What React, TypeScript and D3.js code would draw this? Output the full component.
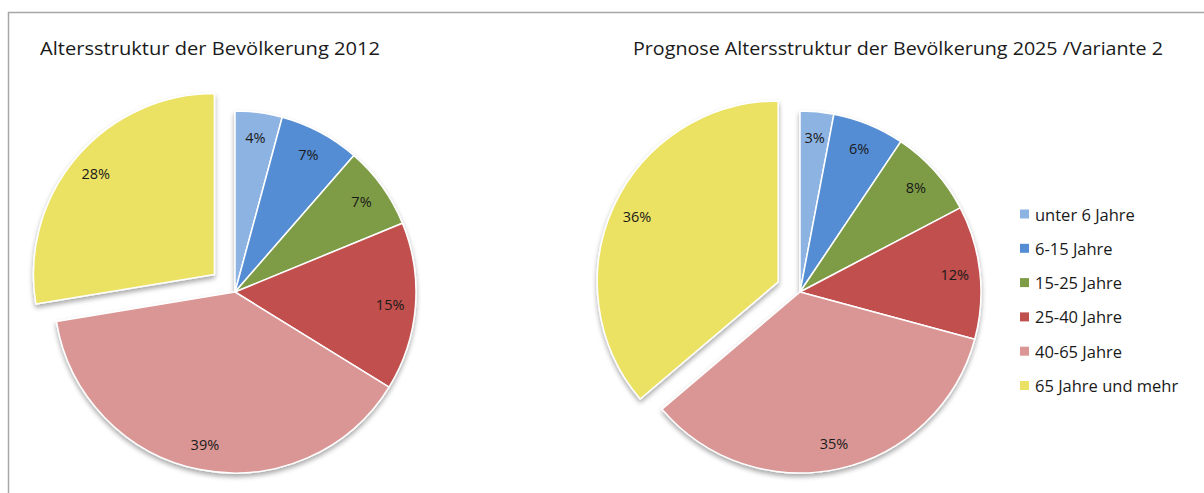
import React from "react";
import * as d3 from "d3";

const categories = ["unter 6 Jahre", "6-15 Jahre", "15-25 Jahre", "25-40 Jahre", "40-65 Jahre", "65 Jahre und mehr"];
const colors = ["#8DB3E2", "#548DD4", "#7E9C45", "#C0504D", "#D99694", "#EBE164"];
const values2012 = [4.2, 7.2, 7.4, 15.0, 38.6, 27.6];
const labels2012 = ["4%", "7%", "7%", "15%", "39%", "28%"];
const values2025 = [3.0, 6.4, 7.9, 11.9, 34.6, 36.2];
const labels2025 = ["3%", "6%", "8%", "12%", "35%", "36%"];
const title2012 = "Altersstruktur  der Bevölkerung  2012";
const title2025 = "Prognose Altersstruktur der Bevölkerung 2025 /Variante 2";

const W = 1204;
const H = 493;
const R = 181;
const FONT = "'Open Sans', 'Noto Sans', sans-serif";

type PieProps = { cx: number; cy: number; values: number[]; labels: string[]; explode: number; explodeIndex: number };

function Pie({ cx, cy, values, labels, explode, explodeIndex }: PieProps) {
  const pie = d3.pie<number>().sort(null).value((d) => d);
  const arcs = pie(values);
  const arc = d3.arc<d3.PieArcDatum<number>>().innerRadius(0).outerRadius(R);
  const labelArc = d3.arc<d3.PieArcDatum<number>>().innerRadius(R * 0.86).outerRadius(R * 0.86);
  return (
    <g transform={`translate(${cx},${cy})`}>
      <g filter="url(#pieShadow)">
        {arcs.map((a, i) => {
          const mid = (a.startAngle + a.endAngle) / 2;
          const off = i === explodeIndex ? explode : 0;
          const dx = Math.sin(mid) * off;
          const dy = -Math.cos(mid) * off;
          return (
            <path key={i} d={arc(a) || ""} transform={`translate(${dx},${dy})`} fill={colors[i]} stroke="#ffffff" strokeWidth={1.5} strokeLinejoin="round" />
          );
        })}
      </g>
      {arcs.map((a, i) => {
        const mid = (a.startAngle + a.endAngle) / 2;
        const off = i === explodeIndex ? explode : 0;
        const [lx, ly] = labelArc.centroid(a);
        const dx = Math.sin(mid) * off;
        const dy = -Math.cos(mid) * off;
        return (
          <text key={i} x={lx + dx} y={ly + dy} textAnchor="middle" dominantBaseline="central" fontSize={14.5} fill="#1a1a1a" fontFamily={FONT}>
            {labels[i]}
          </text>
        );
      })}
    </g>
  );
}

export default function App() {
  return (
    <svg width={W} height={H} style={{ position: "absolute", left: 0, top: 0, display: "block" }}>
      <defs>
        <filter id="pieShadow" x="-20%" y="-20%" width="140%" height="140%">
          <feGaussianBlur in="SourceAlpha" stdDeviation="2.5" />
          <feOffset dx="0" dy="3" result="blur" />
          <feComponentTransfer>
            <feFuncA type="linear" slope="0.35" />
          </feComponentTransfer>
          <feMerge>
            <feMergeNode />
            <feMergeNode in="SourceGraphic" />
          </feMerge>
        </filter>
      </defs>
      <rect x={0} y={0} width={W} height={H} fill="#ffffff" />
      <line x1={8} y1={12.5} x2={W} y2={12.5} stroke="#a6a6a6" strokeWidth={1.5} />
      <line x1={8.5} y1={12} x2={8.5} y2={H} stroke="#a6a6a6" strokeWidth={1.5} />

      <text x={40} y={55} fontSize={18} fill="#1a1a1a" fontFamily={FONT} textLength={340} lengthAdjust="spacingAndGlyphs">
        {title2012}
      </text>
      <text x={633} y={55} fontSize={18} fill="#1a1a1a" fontFamily={FONT} textLength={530} lengthAdjust="spacingAndGlyphs">
        {title2025}
      </text>

      <Pie cx={235} cy={292} values={values2012} labels={labels2012} explode={27} explodeIndex={5} />
      <Pie cx={800} cy={292} values={values2025} labels={labels2025} explode={24} explodeIndex={5} />

      {categories.map((c, i) => {
        const y = 214 + i * 34.3;
        return (
          <g key={c}>
            <rect x={1020} y={y - 4.5} width={9} height={9} fill={colors[i]} />
            <text x={1035} y={y} dominantBaseline="central" fontSize={16.5} fill="#1a1a1a" fontFamily={FONT}>
              {c}
            </text>
          </g>
        );
      })}
    </svg>
  );
}
